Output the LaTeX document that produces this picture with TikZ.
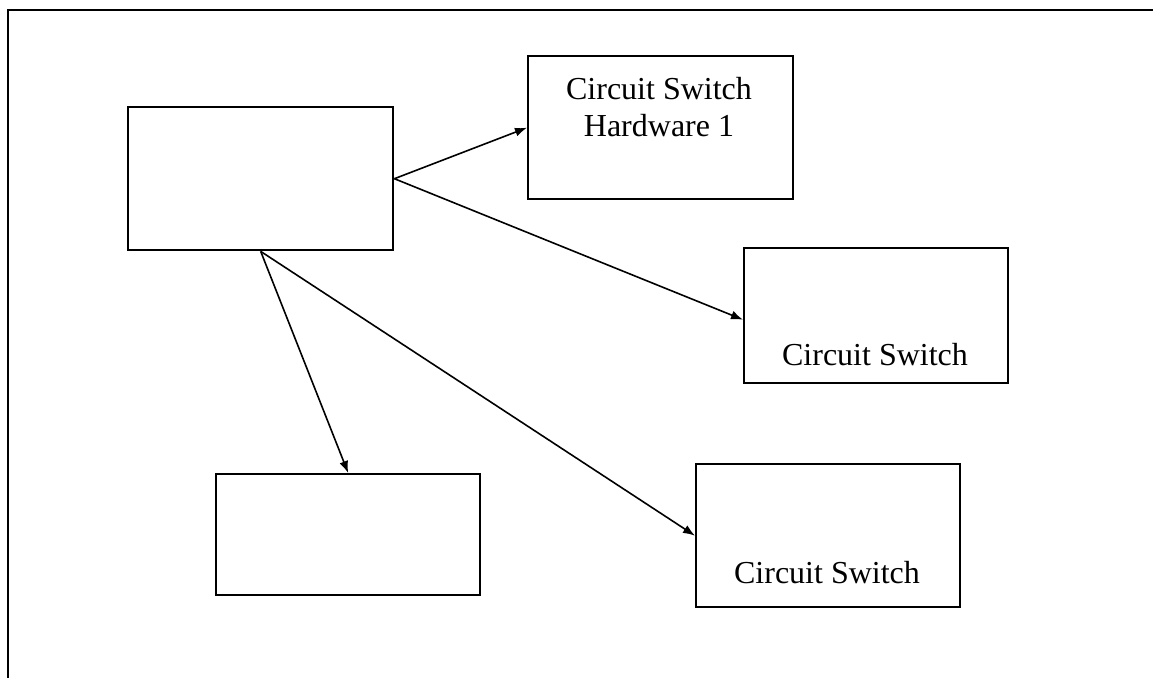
\documentclass[tikz,border=0pt]{standalone}
\usepackage{fontspec}
\setmainfont{Liberation Serif}
\usetikzlibrary{arrows.meta,calc}
\begin{document}
\begin{tikzpicture}[x=1pt,y=-1pt,
  box/.style={draw,line width=2.4pt,rectangle,inner sep=0pt,anchor=north west},
  lbl/.style={inner sep=0pt,align=center,font=\fontsize{32}{37}\selectfont},
  conn/.style={line width=1.6pt,-{Latex[length=12pt,width=9pt]}},
  frameline/.style={line width=2.4pt}]
\useasboundingbox (0,0) rectangle (1153,677);
\coordinate (fl) at (8,690);
\coordinate (fc) at (8,10);
\coordinate (fr) at (1165,10);
\draw[frameline] (fl) -- (fc) -- (fr);
\node[box,minimum width=265pt,minimum height=143pt] (ctl) at (127,106) {};
\node[box,minimum width=265pt,minimum height=143pt] (hw) at (527,55) {};
\node[box,minimum width=264pt,minimum height=135pt] (cs2) at (743,247) {};
\node[box,minimum width=264pt,minimum height=143pt] (cs3) at (695,463) {};
\node[box,minimum width=264pt,minimum height=121pt] (b4) at (215,473) {};
\node[lbl] (hwt) at (659,107) {Circuit Switch\\Hardware 1};
\node[lbl] (cs2t) at (875,355) {Circuit Switch};
\node[lbl] (cs3t) at (827,573) {Circuit Switch};
\draw[conn] (ctl.east) -- (hw.west);
\draw[conn] (ctl.east) -- ($(cs2.west)+(0,4)$);
\draw[conn] (ctl.south) -- (b4.north);
\draw[conn] (ctl.south) -- (cs3.west);
\end{tikzpicture}
\end{document}
